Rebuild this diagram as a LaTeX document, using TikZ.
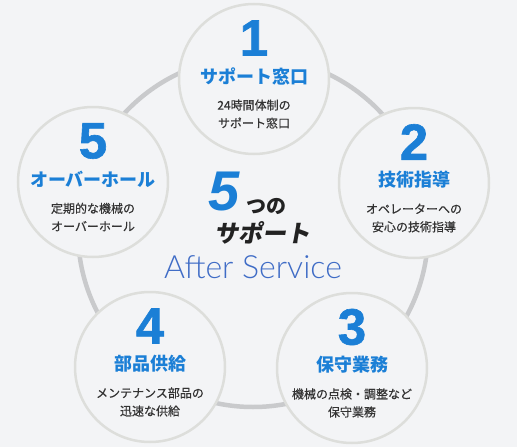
\documentclass[tikz,border=0pt]{standalone}
\usepackage{fontspec}
\setmainfont{Liberation Sans}
\newfontfamily\numf[BoldFeatures={FakeBold=1.2}]{Liberation Sans}
\newfontfamily\jp{Noto Sans CJK JP}
\newfontfamily\jpd[FakeBold=0.5]{Noto Sans CJK JP}
\newfontfamily\jpsl[FakeSlant=0.18]{Noto Sans CJK JP}
\IfFontExistsTF{Lato Light}{\newfontfamily\thinf{Lato Light}}{\newfontfamily\thinf{Liberation Sans}}
\definecolor{bg}{HTML}{F3F4F6}
\definecolor{circborder}{HTML}{DDDEDB}
\definecolor{ringgray}{HTML}{C9CACC}
\definecolor{numblue}{HTML}{1B7FD6}
\definecolor{descgray}{HTML}{333333}
\definecolor{asblue}{HTML}{3F6CC6}
\definecolor{darktext}{HTML}{222222}
\tikzset{
  bubble/.style={circle, draw=circborder, line width=2.5pt, fill=bg, minimum size=150pt, inner sep=0pt},
  ring/.style={draw=ringgray, line width=4.5pt},
  num/.style={text=numblue, inner sep=0pt, font=\numf\fontsize{51}{51}\selectfont\bfseries},
  ttl/.style={text=numblue, inner sep=0pt, font=\jp\bfseries\fontsize{18}{18}\selectfont},
  desc/.style={text=descgray, inner sep=0pt, align=center, font=\jpd\fontsize{12}{18}\selectfont},
}
\begin{document}
\begin{tikzpicture}[x=1pt,y=-1pt]
\fill[bg] (0,0) rectangle (517,447);
\useasboundingbox (0,0) rectangle (517,447);
\coordinate (rc) at (253,232);
\draw[ring] (rc) circle[radius=175pt];
% bubbles
\node[bubble] (c1) at (254,79) {};
\node[bubble] (c2) at (414,183) {};
\node[bubble] (c3) at (352,368) {};
\node[bubble] (c4) at (150,367) {};
\node[bubble] (c5) at (93,182) {};
% texts
\foreach \c/\n/\t/\da/\db in {c1/1/サポート窓口/24時間体制の/サポート窓口,
  c2/2/技術指導/オペレーターへの/安心の技術指導,
  c3/3/保守業務/機械の点検・調整など/保守業務,
  c4/4/部品供給/メンテナンス部品の/迅速な供給,
  c5/5/オーバーホール/定期的な機械の/オーバーホール}{
  \node[num] (\c-n) at ([yshift=41pt]\c.center) {\n};
  \node[ttl] (\c-t) at ([yshift=3pt]\c.center) {\t};
  \node[desc] (\c-d) at ([yshift=-35pt]\c.center) {\da\\\db};
}
% center
\node[text=numblue, inner sep=0pt, font=\numf\fontsize{56}{56}\selectfont\bfseries\itshape] (five) at (224,192) {5};
\node[text=darktext, inner sep=0pt, font=\jp\bfseries\fontsize{20}{20}\selectfont] (tsuno) at (266,206) {つの};
\node[text=darktext, inner sep=0pt, font=\jpsl\bfseries\fontsize{24}{24}\selectfont] (support) at (262,233) {サポート};
\node[text=asblue, inner sep=0pt, font=\thinf\fontsize{32}{32}\selectfont] (after) at (253,267) {After Service};
\end{tikzpicture}
\end{document}
